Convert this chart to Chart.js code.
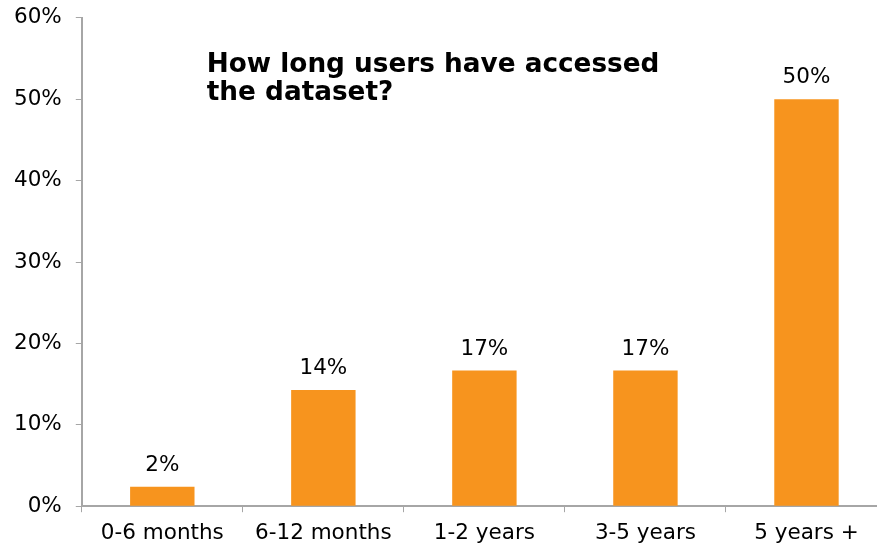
<!DOCTYPE html>
<html lang="en">
<head>
    <meta charset="UTF-8">
    <title>How long users have accessed the dataset?</title>
    <script src="https://cdn.jsdelivr.net/npm/chart.js"></script>
    <style>
        html, body { margin: 0; padding: 0; background: #fff; overflow: hidden; }
        #wrap { width: 890px; height: 546px; overflow: hidden; }
        #accessChart { position: relative; top: -9px; }
    </style>
</head>
<body>
    <div id="wrap"><canvas id="accessChart" width="887" height="555"></canvas></div>

    <script>
        const categories = ['0-6 months', '6-12 months', '1-2 years', '3-5 years', '5 years +'];
        const shares = [2.38, 14.29, 16.67, 16.67, 50.0];
        const yTicks = [0, 10, 20, 30, 40, 50, 60];
        const titleLines = ['How long users have accessed', 'the dataset?'];

        const FONT = '"DejaVu Sans", Verdana, sans-serif';
        const axisGray = '#a6a6a6';

        // value labels above each bar
        const barLabels = {
            id: 'barLabels',
            afterDatasetsDraw(chart) {
                const ctx = chart.ctx;
                const meta = chart.getDatasetMeta(0);
                ctx.save();
                ctx.font = '21.5px ' + FONT;
                ctx.fillStyle = '#000';
                ctx.textAlign = 'center';
                ctx.textBaseline = 'alphabetic';
                meta.data.forEach((bar, i) => {
                    ctx.fillText(Math.round(shares[i]) + '%', bar.x, bar.y - 16);
                });
                ctx.restore();
            }
        };

        // bold title sitting inside the plot area
        const innerTitle = {
            id: 'innerTitle',
            afterDraw(chart) {
                const ctx = chart.ctx;
                const area = chart.chartArea;
                ctx.save();
                ctx.font = 'bold 26.3px ' + FONT;
                ctx.fillStyle = '#000';
                ctx.textAlign = 'left';
                ctx.textBaseline = 'alphabetic';
                titleLines.forEach((line, i) => {
                    ctx.fillText(line, area.left + 125, area.top + 54 + i * 28);
                });
                ctx.restore();
            }
        };

        new Chart(document.getElementById('accessChart'), {
            type: 'bar',
            data: {
                labels: categories,
                datasets: [{
                    data: shares,
                    backgroundColor: '#F7941E',
                    categoryPercentage: 1.0,
                    barPercentage: 0.4
                }]
            },
            options: {
                responsive: false,
                animation: false,
                layout: { padding: { left: 0, top: 0, right: 0, bottom: -8 } },
                plugins: {
                    legend: { display: false },
                    tooltip: { enabled: false }
                },
                scales: {
                    x: {
                        grid: { display: true, drawOnChartArea: false, offset: true, tickLength: 6, color: axisGray },
                        border: { color: axisGray, width: 2 },
                        ticks: { color: '#000', font: { family: FONT, size: 21.5 }, padding: 8, maxRotation: 0 }
                    },
                    y: {
                        min: 0,
                        max: 60,
                        afterBuildTicks(axis) { axis.ticks = yTicks.map(v => ({ value: v })); },
                        grid: { display: true, drawOnChartArea: false, tickLength: 6, color: axisGray },
                        border: { color: axisGray, width: 2 },
                        ticks: {
                            color: '#000',
                            font: { family: FONT, size: 21.5 },
                            padding: 14,
                            callback: v => v + '%'
                        }
                    }
                }
            },
            plugins: [barLabels, innerTitle]
        });
    </script>
</body>
</html>
